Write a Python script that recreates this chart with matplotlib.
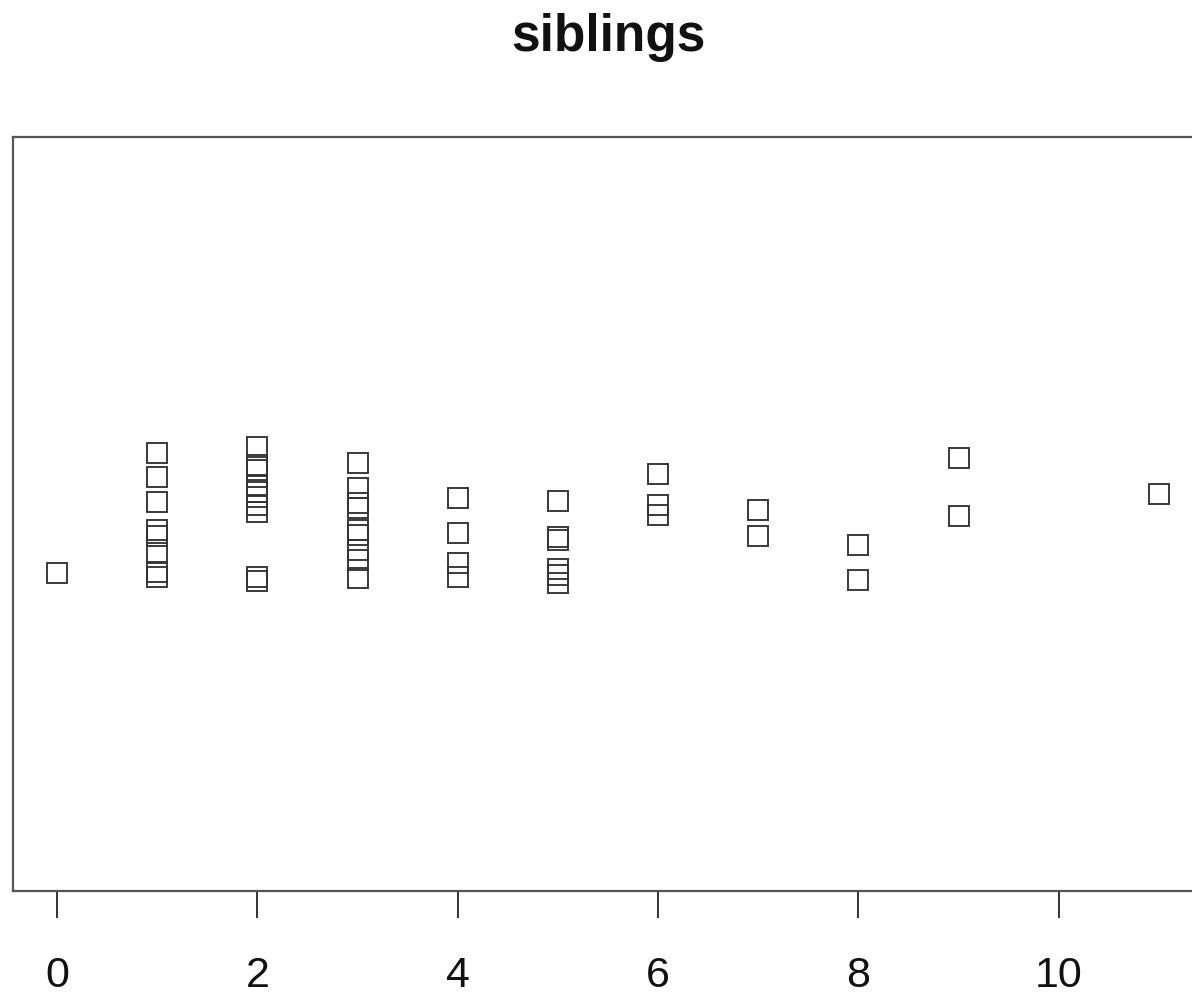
import matplotlib
matplotlib.use("Agg")
import matplotlib.pyplot as plt

title = "siblings"
# number of siblings (x) and vertical jitter offsets (stripchart, method="jitter")
siblings = [0,
            1, 1, 1, 1, 1, 1, 1, 1,
            2, 2, 2, 2, 2, 2, 2, 2, 2, 2,
            3, 3, 3, 3, 3, 3, 3, 3, 3,
            4, 4, 4, 4,
            5, 5, 5, 5, 5, 5,
            6, 6, 6,
            7, 7,
            8, 8,
            9, 9,
            11]
jitter = [-0.078,
          0.081, 0.049, 0.016, -0.021, -0.029, -0.052, -0.077, -0.084,
          0.089, 0.065, 0.058, 0.037, 0.029, 0.023, 0.012, 0.003, -0.084, -0.089,
          0.068, 0.034, 0.015, 0.008, -0.021, -0.028, -0.048, -0.061, -0.085,
          0.021, -0.025, -0.065, -0.084,
          0.017, -0.031, -0.034, -0.073, -0.081, -0.092,
          0.053, 0.012, -0.001,
          0.005, -0.029,
          -0.041, -0.088,
          0.074, -0.003,
          0.027]
xticks = [0, 2, 4, 6, 8, 10]

plt.rcParams['font.family'] = ['Liberation Sans', 'DejaVu Sans']

fig = plt.figure(figsize=(11.92, 9.96), dpi=100)
ax = fig.add_axes([13/1192, 105/996, 1190/1192, 754/996])

y = [1 + j for j in jitter]
ax.plot(siblings, y, linestyle='none', marker='s', markersize=14.2,
        markerfacecolor='none', markeredgecolor='#333333', markeredgewidth=1.35)

ax.set_xticks(xticks)
ax.set_xticklabels([str(t) for t in xticks])
ax.set_yticks([])
ax.set_xlim(-0.44, 11.44)
ax.set_ylim(0.5, 1.5)
ax.tick_params(axis='x', length=19.5, width=1.4, pad=27, labelsize=31,
               color='#333333', labelcolor='#111111')
for s in ax.spines.values():
    s.set_color('#555555')
    s.set_linewidth(1.6)

fig.text(608/1192, 1 - 51/996, title, ha='center', va='baseline',
         fontsize=37, fontweight='bold', color='#111111')

fig.savefig('out.png', dpi=100)
